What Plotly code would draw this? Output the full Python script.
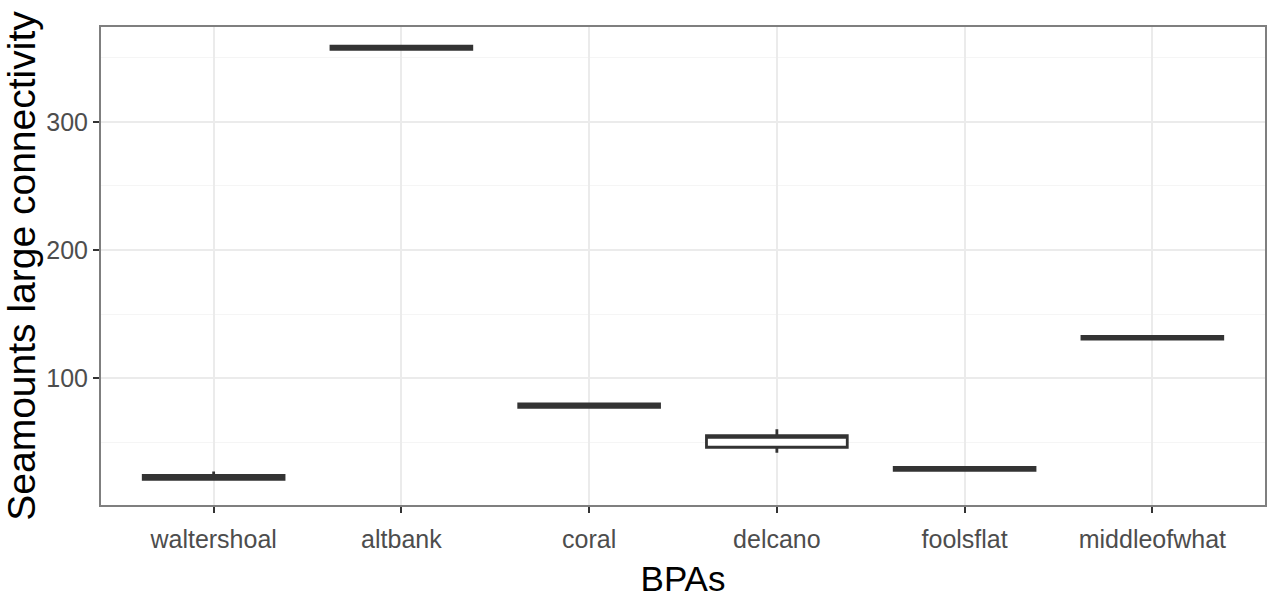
import plotly.graph_objects as go

categories = ["waltershoal", "altbank", "coral", "delcano", "foolsflat", "middleofwhat"]
lower_fence = [20.8, 356.8, 77.0, 41.7, 27.8, 130.4]
q1_vals = [20.8, 356.8, 77.0, 45.9, 27.8, 130.4]
medians = [22.4, 358.0, 78.4, 53.6, 29.0, 131.5]
q3_vals = [24.0, 359.2, 79.8, 55.0, 30.2, 132.6]
upper_fence = [27.0, 359.2, 79.8, 60.0, 30.2, 132.6]
y_ticks = [100, 200, 300]

fig = go.Figure()
fig.add_trace(go.Box(
    x=categories,
    q1=q1_vals,
    median=medians,
    q3=q3_vals,
    lowerfence=lower_fence,
    upperfence=upper_fence,
    boxpoints=False,
    width=0.75,
    whiskerwidth=0,
    fillcolor="white",
    line=dict(color="#333333", width=2.8),
    showlegend=False,
    hoverinfo="skip",
))

tick_font = dict(family="Liberation Sans, Arial, sans-serif", size=25, color="#4D4D4D")

fig.update_layout(
    width=1274, height=607,
    margin=dict(l=101, r=7, t=27, b=102),
    paper_bgcolor="white",
    plot_bgcolor="white",
    xaxis=dict(
        type="category",
        categoryorder="array",
        categoryarray=categories,
        range=[-0.6, 5.6],
        showgrid=True, gridcolor="#EBEBEB", gridwidth=1.5,
        showline=True, linecolor="#7F7F7F", linewidth=2, mirror=True,
        ticks="outside", ticklen=6, tickwidth=1.5, tickcolor="#333333",
        tickfont=tick_font,
        ticklabelstandoff=5,
        title=dict(text="BPAs", font=dict(family="Liberation Sans, Arial, sans-serif", size=35, color="black"), standoff=14),
        zeroline=False,
    ),
    yaxis=dict(
        range=[0.8, 374.2],
        tickvals=y_ticks,
        showgrid=True, gridcolor="#EBEBEB", gridwidth=1.5,
        minor=dict(dtick=50, tick0=0, showgrid=True, gridcolor="#F5F5F5", gridwidth=1),
        showline=True, linecolor="#7F7F7F", linewidth=2, mirror=True,
        ticks="outside", ticklen=6, tickwidth=1.5, tickcolor="#333333",
        tickfont=tick_font,
        title=dict(text="Seamounts large connectivity", font=dict(family="Liberation Sans, Arial, sans-serif", size=39, color="black"), standoff=8),
        zeroline=False,
    ),
)

fig.write_html("out.html")
